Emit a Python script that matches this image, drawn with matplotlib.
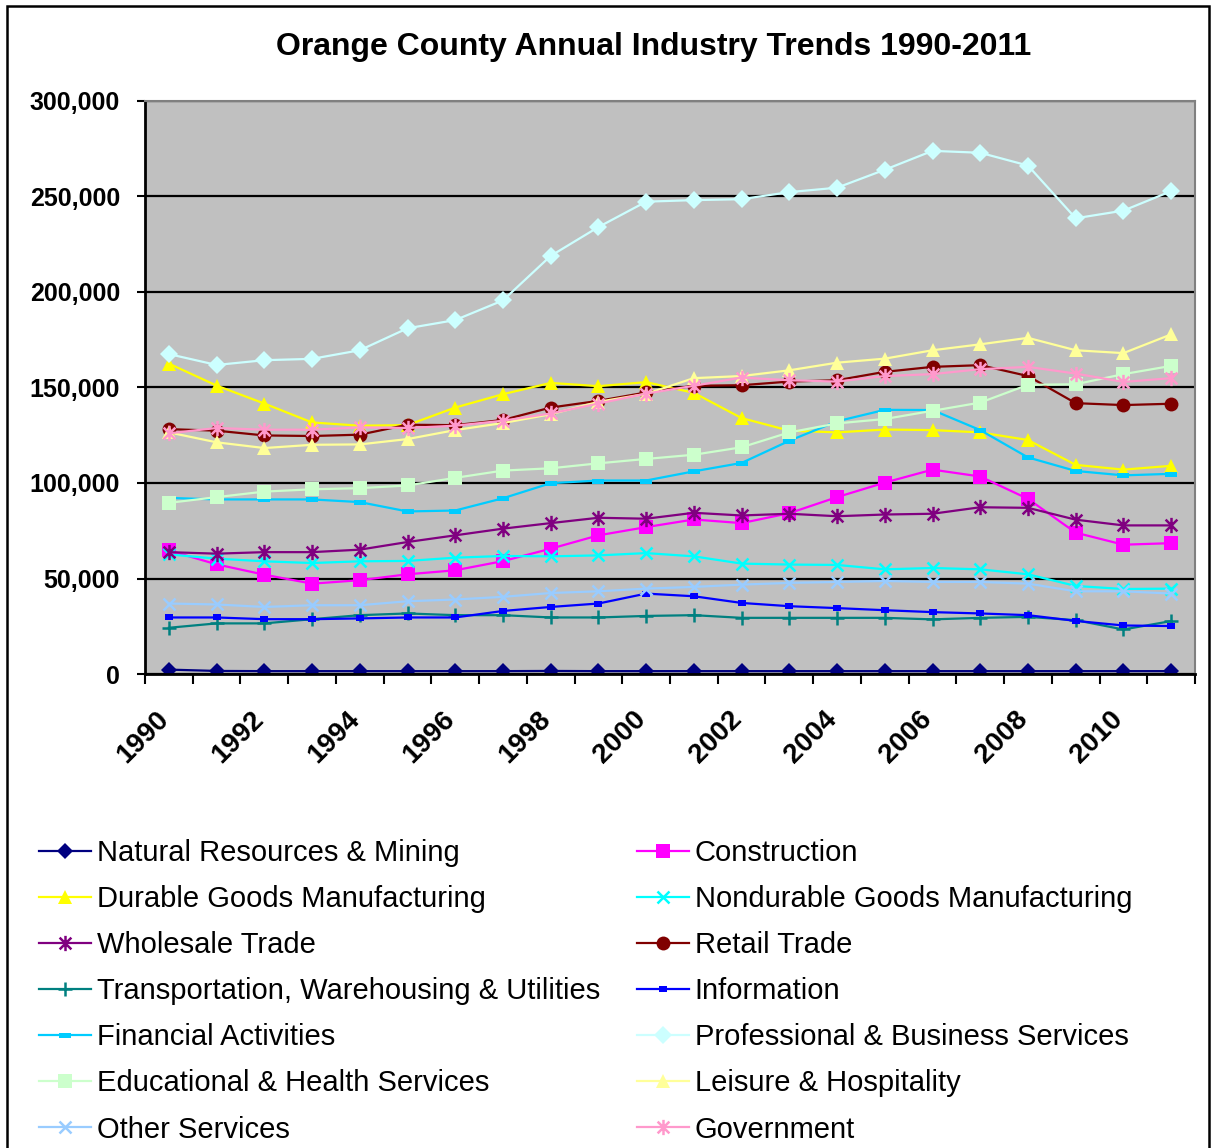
import matplotlib
matplotlib.use("Agg")
import matplotlib.pyplot as plt
from matplotlib.path import Path
from matplotlib.patches import Rectangle
from matplotlib.ticker import FuncFormatter, MultipleLocator
import matplotlib.transforms as mtransforms

plt.rcParams['font.family'] = ['Liberation Sans', 'DejaVu Sans']

years = list(range(1990, 2012))

natural_resources = [2300, 1600, 1500, 1500, 1500, 1500, 1500, 1500, 1600, 1500, 1500,
                     1500, 1500, 1500, 1500, 1500, 1500, 1500, 1500, 1500, 1500, 1500]
construction = [64700, 57400, 52000, 47300, 49100, 52200, 54300, 59100, 65600, 72600, 76900,
                80900, 79000, 84200, 92600, 100200, 107000, 103400, 91700, 74000, 67700, 68500]
durable = [162500, 151000, 141600, 131700, 130000, 130300, 139500, 146500, 152400, 150700, 152800,
           147200, 134000, 127400, 126500, 128000, 127700, 126500, 122500, 109500, 107000, 109000]
nondurable = [62600, 60400, 59000, 58100, 59000, 59200, 60900, 61800, 61600, 62100, 63300,
              61600, 57800, 57300, 57100, 54800, 55500, 54800, 52200, 46100, 44500, 44700]
wholesale = [63800, 63000, 63800, 63800, 65100, 69100, 72600, 76100, 79000, 81800, 81300,
             84400, 83000, 83900, 82600, 83500, 83900, 87300, 87000, 80800, 77800, 77800]
retail = [128200, 127400, 124900, 124600, 125300, 130500, 130300, 133000, 139500, 143000, 147400,
          150900, 151200, 153100, 153800, 158200, 160800, 161700, 156000, 141800, 140800, 141500]
transportation = [24200, 26500, 26500, 28700, 30800, 31700, 30800, 30800, 29600, 29600, 30400,
                  30800, 29400, 29400, 29400, 29400, 28600, 29400, 29900, 28200, 23300, 27700]
information = [29600, 29600, 28700, 28700, 29100, 29600, 29600, 33000, 35100, 36900, 42100,
               40700, 37200, 35500, 34500, 33400, 32400, 31700, 30800, 27800, 25400, 25100]
financial = [92200, 91400, 91400, 91400, 90000, 85100, 85600, 92000, 99900, 101300, 101300,
             106100, 110500, 122100, 132300, 138300, 138200, 127700, 113400, 106300, 104000, 104800]
professional = [167500, 161800, 164300, 165000, 169500, 181000, 185300, 195600, 218900, 234000, 247300,
                248100, 248600, 252300, 254600, 264000, 273900, 272900, 266200, 238600, 242600, 252800]
educational = [89600, 92600, 95500, 96700, 97300, 98700, 102700, 106500, 107700, 110300, 112600,
               114800, 118700, 126500, 131200, 133500, 137800, 142100, 151400, 151700, 157000, 161300]
leisure = [126500, 121300, 118300, 120000, 120200, 123000, 127700, 131400, 136000, 142500, 146700,
           154900, 156000, 159000, 163000, 165100, 169500, 172600, 176000, 169500, 168000, 177800]
other = [36900, 36400, 35100, 36000, 36000, 38100, 39000, 40400, 42400, 43300, 44700,
         45600, 46800, 47700, 48200, 48700, 48200, 48200, 47300, 43300, 43300, 42100]
government = [126000, 128800, 127900, 127900, 129100, 128800, 130000, 132600, 136400, 141600, 146800,
              150900, 155200, 153800, 153100, 156000, 157000, 159600, 160800, 157300, 152900, 154900]

# excel style markers
star = Path([(-1, -1), (1, 1), (-1, 1), (1, -1), (0, -1.3), (0, 1.3)],
            [Path.MOVETO, Path.LINETO, Path.MOVETO, Path.LINETO, Path.MOVETO, Path.LINETO])
dash = [(-1, -0.4), (1, -0.4), (1, 0.4), (-1, 0.4)]
small_box = [(-1, -0.75), (1, -0.75), (1, 0.75), (-1, 0.75)]

# name, values, color, marker, size, hollow
series = [
    ("Natural Resources & Mining", natural_resources, "#000080", "D", 8, False),
    ("Construction", construction, "#FF00FF", "s", 10, False),
    ("Durable Goods Manufacturing", durable, "#FFFF00", "^", 10, False),
    ("Nondurable Goods Manufacturing", nondurable, "#00FFFF", "x", 9, True),
    ("Wholesale Trade", wholesale, "#800080", star, 11, True),
    ("Retail Trade", retail, "#800000", "o", 10, False),
    ("Transportation, Warehousing & Utilities", transportation, "#008080", "+", 10, True),
    ("Information", information, "#0000FF", small_box, 6, False),
    ("Financial Activities", financial, "#00CCFF", dash, 9, False),
    ("Professional & Business Services", professional, "#CCFFFF", "D", 9, False),
    ("Educational & Health Services", educational, "#CCFFCC", "s", 10, False),
    ("Leisure & Hospitality", leisure, "#FFFF99", "^", 10, False),
    ("Other Services", other, "#99CCFF", "x", 9, True),
    ("Government", government, "#FF99CC", star, 11, True),
]

fig = plt.figure(figsize=(12.12, 11.48), dpi=100)
ax = fig.add_axes([145 / 1212, 1 - 674 / 1148, 1050 / 1212, 573 / 1148])
ax.set_facecolor("#C0C0C0")

xs = list(range(len(years)))
handles = {}
for name, vals, col, mk, ms, hollow in series:
    if hollow:
        h, = ax.plot(xs, vals, color=col, lw=1.6, marker=mk, ms=ms, mew=1.8,
                     mfc="none", mec=col, label=name)
    else:
        h, = ax.plot(xs, vals, color=col, lw=1.6, marker=mk, ms=ms, mew=0,
                     mfc=col, mec=col, label=name)
    handles[name] = h

ax.set_xlim(-0.5, len(years) - 0.5)
ax.set_ylim(0, 300000)
ax.yaxis.set_major_locator(MultipleLocator(50000))
ax.yaxis.set_major_formatter(FuncFormatter(lambda v, p: f"{int(v):,}"))
ax.yaxis.grid(True, color="black", lw=1.6)
ax.set_axisbelow(True)

ax.set_xticks(xs[::2])
ax.set_xticklabels([str(y) for y in years[::2]], rotation=45, ha="right", va="top",
                   fontsize=20, fontweight="bold")
ax.set_xticks([x - 0.5 for x in range(len(years) + 1)], minor=True)
ax.tick_params(axis="x", which="major", length=0, pad=23)
ax.tick_params(axis="x", which="minor", length=7, width=1.5, direction="out")
ax.tick_params(axis="y", length=6, width=1.5, direction="out", pad=12, labelsize=18)
for lab in ax.get_yticklabels():
    lab.set_fontweight("bold")
off = mtransforms.ScaledTranslation(0.05, 0, fig.dpi_scale_trans)
for lab in ax.get_xticklabels():
    lab.set_transform(lab.get_transform() + off)

ax.spines["left"].set_color("black")
ax.spines["left"].set_linewidth(2)
ax.spines["bottom"].set_color("black")
ax.spines["bottom"].set_linewidth(2)
ax.spines["top"].set_color("#808080")
ax.spines["right"].set_color("#808080")
ax.spines["top"].set_linewidth(1.5)
ax.spines["right"].set_linewidth(1.5)

fig.text(654 / 1212, 1 - 47 / 1148, "Orange County Annual Industry Trends 1990-2011",
         ha="center", va="center", fontsize=23, fontweight="bold")

left_names = [s[0] for s in series[0::2]]
right_names = [s[0] for s in series[1::2]]
leg_kw = dict(frameon=False, fontsize=21, handlelength=1.78, handletextpad=0.2,
              labelspacing=0.62, borderpad=0, borderaxespad=0, loc="upper left")
leg1 = fig.legend([handles[n] for n in left_names], left_names,
                  bbox_to_anchor=(39 / 1212, 1 - 839 / 1148), **leg_kw)
leg2 = fig.legend([handles[n] for n in right_names], right_names,
                  bbox_to_anchor=(637 / 1212, 1 - 839 / 1148), **leg_kw)

fig.patches.append(Rectangle((7 / 1212, -0.01), 1202 / 1212, 1.01 - 6 / 1148,
                             transform=fig.transFigure, fill=False,
                             edgecolor="black", lw=1.8))

fig.savefig("out.png", dpi=100)
